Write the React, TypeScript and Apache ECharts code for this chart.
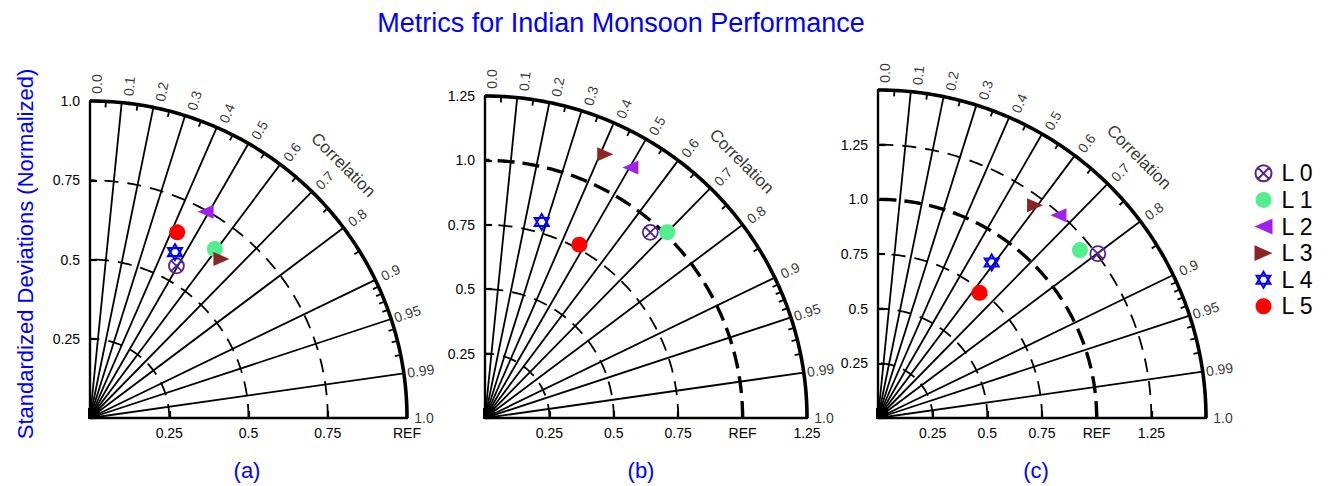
import React, { useEffect, useRef } from 'react';
import * as echarts from 'echarts';

const W = 1330;
const H = 486;
const FONT = "'Liberation Sans', Arial, Helvetica, sans-serif";

const TITLE = 'Metrics for Indian Monsoon Performance';
const Y_NAME = 'Standardized Deviations (Normalized)';
const PANEL_TAGS = ['(a)', '(b)', '(c)'];
const MODEL_NAMES = ['L 0', 'L 1', 'L 2', 'L 3', 'L 4', 'L 5'];

const AXIS_MAX = [1.0, 1.25, 1.5];
const STD_ARCS = [0.25, 0.5, 0.75, 1.0, 1.25];

// normalized standard deviation and correlation of each model, per panel
const STD_A = [0.552, 0.663, 0.746, 0.651, 0.588, 0.647];
const COR_A = [0.494, 0.594, 0.489, 0.637, 0.456, 0.425];
const STD_B = [0.965, 1.01, 1.124, 1.125, 0.792, 0.766];
const COR_B = [0.665, 0.7, 0.502, 0.415, 0.278, 0.478];
const STD_C = [1.255, 1.201, 1.241, 1.209, 0.881, 0.737];
const COR_C = [0.801, 0.769, 0.665, 0.594, 0.59, 0.63];

const CORR_LABELS = [0, 0.1, 0.2, 0.3, 0.4, 0.5, 0.6, 0.7, 0.8, 0.9, 0.95, 0.99, 1.0];
const CORR_LINES = [0.1, 0.2, 0.3, 0.4, 0.5, 0.6, 0.7, 0.8, 0.9, 0.95, 0.99];
const CORR_MINOR = [0.05, 0.15, 0.25, 0.35, 0.45, 0.55, 0.65, 0.75, 0.85, 0.91, 0.92, 0.93, 0.94, 0.96, 0.97, 0.98];

const LAYOUT = [
  { left: 90, bottom: 418, size: 317, tagX: 247 },
  { left: 485, bottom: 418, size: 322, tagX: 641 },
  { left: 878, bottom: 418, size: 328, tagX: 1036 },
];

const MARKERS = [
  { symbol: 'path://M2,10A8,8 0 1,1 18,10A8,8 0 1,1 2,10Z M4.35,4.35L15.65,15.65M15.65,4.35L4.35,15.65', size: 15, style: { color: 'none', borderColor: '#55248f', borderWidth: 1.8 } },
  { symbol: 'circle', size: 16, style: { color: '#52ee90' } },
  { symbol: 'path://M0,7L16,0L16,14Z', size: [16, 14], style: { color: '#a020f0' } },
  { symbol: 'path://M0,0L16,7L0,14Z', size: [16, 14], style: { color: '#8b2525' } },
  { symbol: 'path://M10,0L18.66,15L1.34,15Z M10,20L1.34,5L18.66,5Z', size: [14, 16], style: { color: 'none', borderColor: '#0000ff', borderWidth: 2 } },
  { symbol: 'circle', size: 16, style: { color: '#ff0000' } },
];

const fmtCorr = (c: number) => (c === 0 ? '0.0' : c === 1 ? '1.0' : String(c));

function arcPoints(r: number) {
  const pts: number[][] = [];
  for (let d = 0; d <= 90.001; d += 0.5) {
    const t = (d * Math.PI) / 180;
    pts.push([r * Math.cos(t), r * Math.sin(t)]);
  }
  return pts;
}

function buildOption() {
  const panels = [
    { std: STD_A, cor: COR_A },
    { std: STD_B, cor: COR_B },
    { std: STD_C, cor: COR_C },
  ];
  const grid: any[] = [];
  const xAxis: any[] = [];
  const yAxis: any[] = [];
  const series: any[] = [];

  panels.forEach((pd, p) => {
    const L = LAYOUT[p];
    const max = AXIS_MAX[p];
    const scale = L.size / max; // px per unit
    grid.push({ left: L.left, top: L.bottom - L.size, width: L.size, height: L.size, containLabel: false });
    const common = {
      type: 'value',
      min: 0,
      max,
      interval: 0.25,
      gridIndex: p,
      splitLine: { show: false },
      axisLine: { show: true, onZero: false, lineStyle: { color: '#000', width: 2.4 } },
      axisTick: { show: true, inside: true, length: 7, lineStyle: { color: '#000', width: 2.2 } },
    };
    xAxis.push({
      ...common,
      axisLabel: {
        margin: 8,
        fontSize: 14,
        fontFamily: FONT,
        color: '#000',
        formatter: (v: number) => (v === 0 || v === 1.5 ? '' : v === 1 ? 'REF' : String(v)),
      },
    });
    yAxis.push({
      ...common,
      axisLabel: {
        margin: 10,
        fontSize: 14,
        fontFamily: FONT,
        color: '#000',
        formatter: (v: number) => (v === 0 || v === 1.5 ? '' : v === 1 ? '1.0' : String(v)),
      },
    });
    const base = { xAxisIndex: p, yAxisIndex: p, silent: true, clip: false, animation: false };

    // standard deviation arcs (dashed), REF arc thicker
    STD_ARCS.filter((s) => s < max).forEach((s) => {
      series.push({
        ...base,
        type: 'line',
        data: arcPoints(s),
        showSymbol: false,
        symbol: 'none',
        lineStyle: { color: '#000', width: s === 1 ? 3.4 : 1.8, type: s === 1 ? [17, 8] : [14, 9] },
        z: 2,
      });
    });
    // outer arc
    series.push({
      ...base,
      type: 'line',
      data: arcPoints(max),
      showSymbol: false,
      symbol: 'none',
      lineStyle: { color: '#000', width: 3.6 },
      z: 3,
    });
    // correlation rays
    series.push({
      ...base,
      type: 'lines',
      coordinateSystem: 'cartesian2d',
      lineStyle: { color: '#000', width: 1.8, opacity: 1 },
      data: CORR_LINES.map((c) => ({ coords: [[0, 0], [max * c, max * Math.sqrt(1 - c * c)]] })),
      z: 2,
    });
    // minor ticks on the arc
    const tk = 6 / scale;
    series.push({
      ...base,
      type: 'lines',
      coordinateSystem: 'cartesian2d',
      lineStyle: { color: '#000', width: 1.8, opacity: 1 },
      data: CORR_MINOR.map((c) => {
        const s = Math.sqrt(1 - c * c);
        return { coords: [[max * c, max * s], [(max - tk) * c, (max - tk) * s]] };
      }),
      z: 3,
    });
    // origin block where the rays converge
    series.push({
      ...base,
      type: 'custom',
      coordinateSystem: 'cartesian2d',
      data: [[0, 0]],
      renderItem: (_params: any, api: any) => {
        const o = api.coord([api.value(0), api.value(1)]);
        return {
          type: 'rect',
          shape: { x: o[0] - 2, y: o[1] - 10, width: 12, height: 11 },
          style: { fill: '#000' },
        };
      },
      z: 6,
    });
    // correlation labels
    const rr = (L.size + 17) / scale;
    series.push({
      ...base,
      type: 'scatter',
      symbolSize: 0,
      data: CORR_LABELS.map((c) => {
        const t = Math.acos(c);
        const deg = (t * 180) / Math.PI;
        const perp = (6.5 * Math.max(0, (deg - 36) / 54)) / scale;
        return {
          name: fmtCorr(c),
          value: [rr * Math.cos(t) + perp * Math.sin(t), rr * Math.sin(t) - perp * Math.cos(t)],
          label: { rotate: deg },
        };
      }),
      label: {
        show: true,
        position: 'inside',
        formatter: '{b}',
        align: 'center',
        verticalAlign: 'middle',
        fontSize: 14,
        fontFamily: FONT,
        color: '#000',
      },
      z: 4,
    });
    // "Correlation" caption
    const rc = (L.size + 41) / scale;
    series.push({
      ...base,
      type: 'scatter',
      symbolSize: 0,
      data: [{ name: 'Correlation', value: [rc * Math.SQRT1_2, rc * Math.SQRT1_2] }],
      label: {
        show: true,
        position: 'inside',
        formatter: '{b}',
        rotate: -45,
        align: 'center',
        verticalAlign: 'middle',
        fontSize: 17,
        fontFamily: FONT,
        color: '#000',
      },
      z: 4,
    });
    // models
    MODEL_NAMES.forEach((name, k) => {
      const s = pd.std[k];
      const c = pd.cor[k];
      const m = MARKERS[k];
      series.push({
        xAxisIndex: p,
        yAxisIndex: p,
        clip: false,
        type: 'scatter',
        name,
        symbol: m.symbol,
        symbolSize: m.size,
        itemStyle: { ...m.style, opacity: 1 },
        data: [[s * c, s * Math.sqrt(1 - c * c)]],
        z: 10,
      });
    });
  });

  const graphic: any[] = [
    {
      type: 'text',
      x: 621,
      y: 23,
      style: { text: TITLE, fontSize: 27, fontFamily: FONT, fill: '#0000ff', align: 'center', verticalAlign: 'middle' },
    },
    {
      type: 'text',
      x: 25,
      y: 254,
      rotation: Math.PI / 2,
      style: { text: Y_NAME, fontSize: 22, fontFamily: FONT, fill: '#0000ff', align: 'center', verticalAlign: 'middle' },
    },
    ...PANEL_TAGS.map((t, i) => ({
      type: 'text',
      x: LAYOUT[i].tagX,
      y: 470,
      style: { text: t, fontSize: 22, fontFamily: FONT, fill: '#0000ff', align: 'center', verticalAlign: 'middle' },
    })),
  ];

  return {
    animation: false,
    backgroundColor: '#fff',
    grid,
    xAxis,
    yAxis,
    series,
    graphic,
    legend: {
      data: MODEL_NAMES,
      orient: 'vertical',
      left: 1253,
      top: 160,
      itemWidth: 18,
      itemHeight: 16,
      itemGap: 0,
      padding: 0,
      selectedMode: false,
      textStyle: { fontSize: 23, fontFamily: FONT, color: '#000', lineHeight: 26.6, padding: [0, 0, 0, 4] },
    },
  };
}

export default function App() {
  const ref = useRef<HTMLDivElement>(null);
  useEffect(() => {
    if (!ref.current) return;
    const chart = echarts.init(ref.current, null, { renderer: 'svg', width: W, height: H });
    chart.setOption(buildOption() as any);
    return () => chart.dispose();
  }, []);
  return <div ref={ref} style={{ position: 'absolute', left: 0, top: 0, width: W, height: H, background: '#fff' }} />;
}
